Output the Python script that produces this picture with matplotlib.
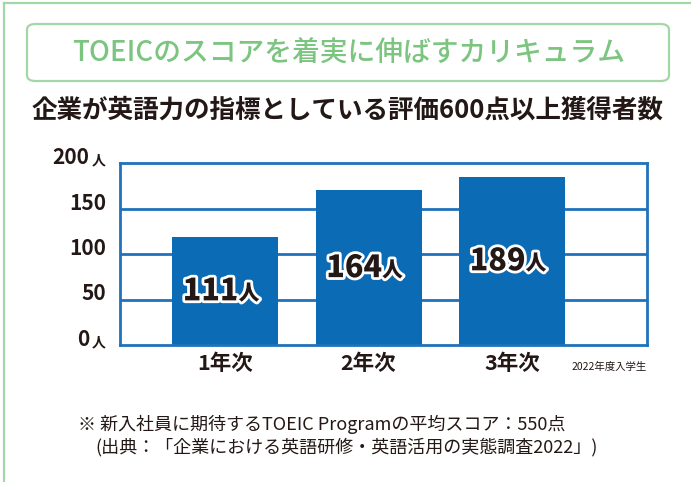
import matplotlib
matplotlib.use("Agg")
import matplotlib.pyplot as plt
import matplotlib.patheffects as pe
from matplotlib.patches import FancyBboxPatch
from matplotlib.lines import Line2D

plt.rcParams['font.family'] = ['Noto Sans CJK JP', 'DejaVu Sans']

# ---- data ----
categories = ['1年次', '2年次', '3年次']
bar_heights = [119, 170, 185]          # bar heights as drawn in the reference
label_values = [111, 164, 189]         # printed values on bars
y_ticks = [0, 50, 100, 150, 200]
y_tick_units = ['人', '', '', '', '人']
title = 'TOEICのスコアを着実に伸ばすカリキュラム'
subtitle = '企業が英語力の指標としている評価600点以上獲得者数'
cohort_note = '2022年度入学生'
note1 = '※ 新入社員に期待するTOEIC Programの平均スコア：550点'
note2 = '(出典：「企業における英語研修・英語活用の実態調査2022」)'

W, H = 691, 482
BLUE = '#0b6cb5'
LINE_BLUE = '#1f72bb'
DARK = '#231815'
GREEN_T = '#7cc580'
GREEN_F = '#a3d7a6'

fig = plt.figure(figsize=(W / 100, H / 100), dpi=100)

def fx(x):
    return x / W

def fy(y):
    return 1 - y / H

# outer frame (left and top edges visible)
fig.add_artist(Line2D([fx(4), fx(4)], [fy(3), fy(482)], color=GREEN_F, lw=1.6))
fig.add_artist(Line2D([fx(4), fx(691)], [fy(3), fy(3)], color=GREEN_F, lw=1.6))

# title box
box = FancyBboxPatch((fx(27), fy(81)), fx(669 - 27), (81 - 24) / H,
                     boxstyle='round,pad=0,rounding_size=0.012',
                     transform=fig.transFigure, fc='white', ec=GREEN_F, lw=1.6)
fig.add_artist(box)
fig.text(fx(349), fy(53), title, ha='center', va='center', fontsize=20,
         color=GREEN_T, fontweight='medium')

fig.text(fx(348), fy(110), subtitle, ha='center', va='center', fontsize=18.4,
         color=DARK, fontweight='bold')

# axes
left, right, top, bottom = 120, 647, 163, 345
ax = fig.add_axes([fx(left), fy(bottom), fx(right - left), (bottom - top) / H])
x = list(range(len(categories)))
spacing = 143.5
ax.set_xlim(-(225 - left) / spacing, (right - 225) / spacing)
ax.set_ylim(0, 200)

for v in y_ticks[1:-1]:
    ax.axhline(v, color=LINE_BLUE, lw=2, zorder=1)
ax.bar(x, bar_heights, width=106 / spacing, color=BLUE, zorder=2)
for s in ax.spines.values():
    s.set_color(LINE_BLUE)
    s.set_linewidth(2)
ax.set_xticks([])
ax.set_yticks([])

stroke = [pe.withStroke(linewidth=4, foreground='white')]
for xi, h, val in zip(x, bar_heights, label_values):
    t_num = ax.text(xi - 0.1, h / 2, str(val), ha='center', va='center',
                    fontsize=22, fontweight='black', color=DARK, path_effects=stroke,
                    zorder=5)
    ax.annotate('人', xy=(1, 0.08), xycoords=t_num, ha='left', va='bottom',
                fontsize=15, fontweight='black', color=DARK, path_effects=stroke,
                zorder=5)

# y tick labels
for v, u in zip(y_ticks, y_tick_units):
    ypix = bottom - v * (bottom - top) / 200 + 1
    if u:
        fig.text(fx(106), fy(ypix), u, ha='right', va='baseline',
                 fontsize=10, fontweight='bold', color=DARK)
        fig.text(fx(89), fy(ypix), str(v), ha='right', va='baseline',
                 fontsize=15, fontweight='bold', color=DARK)
    else:
        fig.text(fx(106), fy(ypix), str(v), ha='right', va='baseline',
                 fontsize=15, fontweight='bold', color=DARK)

# x category labels
for xi, c in zip(x, categories):
    ax.text(xi, -20, c, ha='center', va='center', fontsize=15.5, fontweight='bold',
            color=DARK, transform=ax.transData, clip_on=False)

fig.text(fx(647), fy(367), cohort_note, ha='right', va='center', fontsize=7.5,
         color=DARK)

fig.text(fx(78), fy(424), note1, ha='left', va='center', fontsize=13, color=DARK)
fig.text(fx(95), fy(447), note2, ha='left', va='center', fontsize=13, color=DARK)

fig.savefig('out.png', dpi=100)
